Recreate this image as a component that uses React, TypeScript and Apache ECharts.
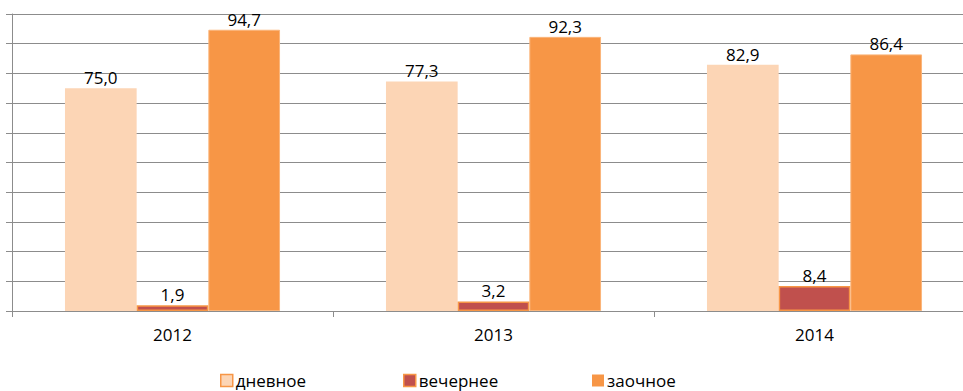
import React, { useEffect, useRef } from "react";
import * as echarts from "echarts";

const categories = ["2012", "2013", "2014"];
const seriesNames = ["дневное", "вечернее", "заочное"];
const dayValues = [75.0, 77.3, 82.9];
const eveningValues = [1.9, 3.2, 8.4];
const extramuralValues = [94.7, 92.3, 86.4];

const FONT = "'Open Sans', 'DejaVu Sans', sans-serif";
const fmt = (p: any) => Number(p.value).toFixed(1).replace(".", ",");

export default function App() {
  const ref = useRef<HTMLDivElement>(null);
  useEffect(() => {
    const chart = echarts.init(ref.current!, undefined, { renderer: "svg" });
    const label = {
      show: true,
      position: "top",
      distance: 2,
      color: "#000",
      fontSize: 17,
      fontFamily: FONT,
      formatter: fmt,
    };
    const legendBase = {
      top: 372,
      itemWidth: 12,
      itemHeight: 12,
      itemGap: 0,
      padding: 0,
      icon: "rect",
      textStyle: { fontSize: 17, lineHeight: 16, fontFamily: FONT, color: "#000", padding: [0, 0, 0, -2] },
    };
    chart.setOption({
      animation: false,
      grid: { left: 12, right: 0, top: 14, bottom: 80, containLabel: false },
      legend: [
        {
          ...legendBase,
          left: 220,
          data: [{ name: seriesNames[0], itemStyle: { color: "#FCD5B5", borderColor: "#F79646", borderWidth: 1.5 } }],
        },
        {
          ...legendBase,
          left: 403,
          data: [{ name: seriesNames[1], itemStyle: { color: "#C0504D", borderColor: "#F79646", borderWidth: 1.5 } }],
        },
        {
          ...legendBase,
          left: 592,
          data: [{ name: seriesNames[2], itemStyle: { color: "#F79646", borderWidth: 0 } }],
        },
      ],
      xAxis: {
        type: "category",
        data: categories,
        axisLine: { show: true, lineStyle: { color: "#8C8C8C", width: 1 } },
        axisTick: { show: true, length: 6, alignWithLabel: false, lineStyle: { color: "#8C8C8C" } },
        axisLabel: { fontSize: 17, fontFamily: FONT, color: "#000", margin: 15 },
      },
      yAxis: {
        type: "value",
        min: 0,
        max: 100,
        interval: 10,
        axisLine: { show: true, lineStyle: { color: "#8C8C8C", width: 1 } },
        axisTick: { show: true, length: 6, lineStyle: { color: "#8C8C8C" } },
        axisLabel: { show: false },
        splitLine: { show: true, lineStyle: { color: "#8C8C8C", width: 1 } },
      },
      series: [
        {
          name: seriesNames[0],
          type: "bar",
          data: dayValues,
          barGap: "0%",
          barCategoryGap: "33%",
          itemStyle: { color: "#FCD5B5" },
          label,
        },
        {
          name: seriesNames[1],
          type: "bar",
          data: eveningValues,
          barGap: "0%",
          barCategoryGap: "33%",
          itemStyle: { color: "#C0504D", borderColor: "#F79646", borderWidth: 1.5 },
          label,
        },
        {
          name: seriesNames[2],
          type: "bar",
          data: extramuralValues,
          barGap: "0%",
          barCategoryGap: "33%",
          itemStyle: { color: "#F79646", borderColor: "#FAB57A", borderWidth: 1 },
          label,
        },
      ],
    });
    return () => chart.dispose();
  }, []);
  return (
    <div style={{ position: "fixed", left: 0, top: 0, width: 963, height: 391, overflow: "hidden", background: "#fff" }}>
      <div ref={ref} style={{ position: "absolute", left: 0, top: 0, width: 975, height: 391 }} />
    </div>
  );
}
